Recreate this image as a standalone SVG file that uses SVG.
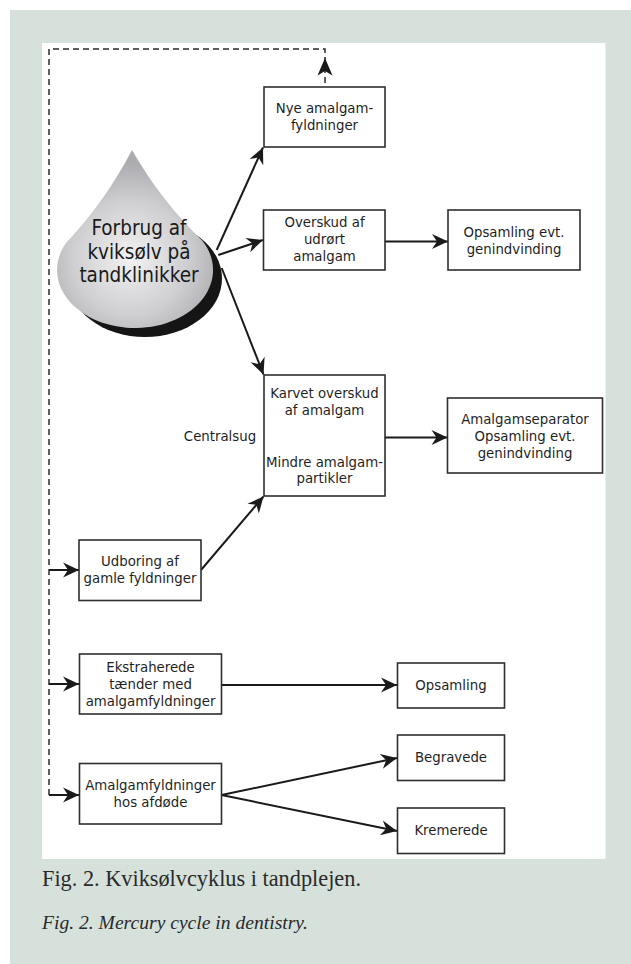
<svg xmlns="http://www.w3.org/2000/svg" width="631" height="964" viewBox="0 0 631 964">
<style>
.box{fill:#fff;stroke:#2e2e2e;stroke-width:1.6}
.t{font-family:"DejaVu Sans Condensed","DejaVu Sans",sans-serif;font-size:14.8px;fill:#1f1f1f;text-anchor:middle}
.big{font-family:"DejaVu Sans Condensed","DejaVu Sans",sans-serif;font-size:20.5px;fill:#1a1a1a;text-anchor:middle}
.ln{fill:none;stroke:#1a1a1a;stroke-width:2;marker-end:url(#ah)}
.dash{fill:none;stroke:#2a2a2a;stroke-width:1.5;stroke-dasharray:6 4}
.cap{font-family:"Liberation Serif",serif;font-size:22.3px;fill:#2a2a2a}
.capi{font-family:"Liberation Serif",serif;font-size:19.6px;font-style:italic;fill:#2a2a2a}
</style>
<defs>
<marker id="ah" viewBox="-17 -8 18 16" refX="0" refY="0" markerWidth="18" markerHeight="16" markerUnits="userSpaceOnUse" orient="auto">
<path d="M0,0 L-16,-7.5 L-11,0 L-16,7.5 Z" fill="#1a1a1a"/>
</marker>
<radialGradient id="dg" gradientUnits="userSpaceOnUse" cx="130" cy="258" r="95">
<stop offset="0" stop-color="#f2f2f2"/>
<stop offset="0.6" stop-color="#cfcfd2"/>
<stop offset="1" stop-color="#acacb0"/>
</radialGradient>
</defs>
<rect x="10" y="10" width="621" height="954" fill="#d6e1dc"/>
<rect x="42" y="43" width="563.5" height="816" fill="#fff"/>

<g id="connectors">
<path class="dash" d="M49,795 V49 H325 V86"/>
<path d="M325,58 L317.5,75.5 L325,71 L332.5,75.5 Z" fill="#1a1a1a"/>
<path class="ln" d="M49,570 H79"/>
<path class="ln" d="M49,684 H79"/>
<path class="ln" d="M49,795 H79"/>
<path class="ln" d="M216.7,250 L263,147.5"/>
<path class="ln" d="M218.3,255 L263,240"/>
<path class="ln" d="M221.7,268 L263.5,374.5"/>
<path class="ln" d="M385,241.5 H448"/>
<path class="ln" d="M385,437.5 H447.5"/>
<path class="ln" d="M201,570 L263.5,496.5"/>
<path class="ln" d="M221.5,685 H397"/>
<path class="ln" d="M221.5,795 L397,758"/>
<path class="ln" d="M221.5,795 L397,831"/>
</g>

<g id="drop">
<ellipse cx="145" cy="278.5" rx="77" ry="58.5" fill="#151515"/>
<path d="M132,150 Q160.7,200.4 202.6,241 A78,58 0 1 1 66,243 Q105.5,201 132,150 Z" fill="url(#dg)"/>
<text class="big" x="139" y="235">Forbrug af</text>
<text class="big" x="139" y="258.5">kviksølv på</text>
<text class="big" x="139" y="282">tandklinikker</text>
</g>

<g id="nye">
<rect class="box" x="264" y="87" width="121" height="60"/>
<text class="t" x="324.5" y="113">Nye amalgam-</text>
<text class="t" x="324.5" y="130">fyldninger</text>
</g>

<g id="overskud">
<rect class="box" x="263.5" y="210" width="121.5" height="60"/>
<text class="t" x="324.5" y="226.5">Overskud af</text>
<text class="t" x="324.5" y="243.5">udrørt</text>
<text class="t" x="324.5" y="260.5">amalgam</text>
</g>

<g id="opsamling1">
<rect class="box" x="448" y="210" width="132" height="60"/>
<text class="t" x="514" y="236.5">Opsamling evt.</text>
<text class="t" x="514" y="253.5">genindvinding</text>
</g>

<g id="karvet">
<rect class="box" x="264" y="375" width="121" height="121"/>
<text class="t" x="324.5" y="398">Karvet overskud</text>
<text class="t" x="324.5" y="415">af amalgam</text>
<text class="t" x="324.5" y="466.5">Mindre amalgam-</text>
<text class="t" x="324.5" y="483">partikler</text>
</g>

<g id="centralsug">
<text class="t" x="220" y="440.5">Centralsug</text>
</g>

<g id="separator">
<rect class="box" x="447.5" y="398" width="155" height="75"/>
<text class="t" x="525" y="424">Amalgamseparator</text>
<text class="t" x="525" y="441">Opsamling evt.</text>
<text class="t" x="525" y="458">genindvinding</text>
</g>

<g id="udboring">
<rect class="box" x="79" y="540" width="122" height="60.5"/>
<text class="t" x="140" y="566">Udboring af</text>
<text class="t" x="140" y="583">gamle fyldninger</text>
</g>

<g id="ekstraherede">
<rect class="box" x="79.5" y="654" width="142" height="60"/>
<text class="t" x="150.5" y="671.5">Ekstraherede</text>
<text class="t" x="150.5" y="688.5">tænder med</text>
<text class="t" x="150.5" y="705.5">amalgamfyldninger</text>
</g>

<g id="opsamling2">
<rect class="box" x="397.5" y="663" width="107" height="45"/>
<text class="t" x="451" y="690">Opsamling</text>
</g>

<g id="begravede">
<rect class="box" x="397.5" y="735" width="107" height="45.5"/>
<text class="t" x="451" y="762">Begravede</text>
</g>

<g id="afdode">
<rect class="box" x="79.5" y="763.5" width="142" height="60.5"/>
<text class="t" x="150.5" y="789.5">Amalgamfyldninger</text>
<text class="t" x="150.5" y="806.5">hos afdøde</text>
</g>

<g id="kremerede">
<rect class="box" x="397.5" y="808" width="107" height="45.5"/>
<text class="t" x="451" y="835">Kremerede</text>
</g>

<g id="caption">
<text class="cap" x="42" y="886">Fig. 2. Kviksølvcyklus i tandplejen.</text>
<text class="capi" x="42" y="929">Fig. 2. Mercury cycle in dentistry.</text>
</g>
</svg>
